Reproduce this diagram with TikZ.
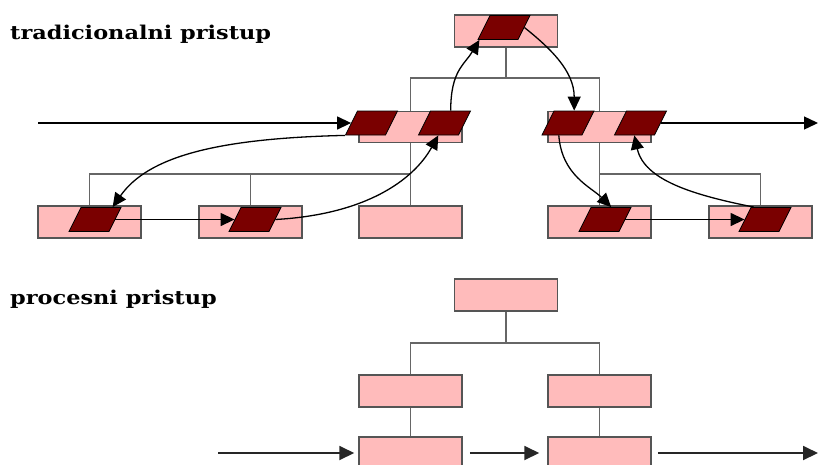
\documentclass[tikz,border=0pt]{standalone}
\usepackage{fontspec}
\newfontfamily\titlefont{DejaVu Serif}
\usetikzlibrary{arrows.meta}
\definecolor{boxpink}{HTML}{FFBBBB}
\definecolor{boxedge}{HTML}{555555}
\definecolor{paraRed}{HTML}{7A0000}
\definecolor{treegray}{HTML}{666666}
\tikzset{
  pbox/.style={draw=boxedge, fill=boxpink, line width=1.5pt, minimum width=103pt, minimum height=32pt, inner sep=0pt},
  para/.style={rectangle, xslant=0.5, draw=black, fill=paraRed, line width=0.8pt, minimum width=40pt, minimum height=24pt, inner sep=0pt},
  tree/.style={draw=treegray, line width=1.6pt},
  flow/.style={draw=black, line width=1.3pt, -{Triangle[length=14pt,width=13pt]}},
  flowb/.style={draw=black!85, line width=1.9pt, -{Triangle[length=15pt,width=14pt]}},
  title/.style={anchor=base west, inner sep=0pt, font=\titlefont\bfseries\fontsize{19}{22}\selectfont}
}
\begin{document}
\begin{tikzpicture}[x=1pt,y=-1pt]
\useasboundingbox (0,0) rectangle (818,464);
\clip (0,0) rectangle (818,464);
% titles
\node[title] (t1) at (10,39) {\scalebox{1.18}[1]{tradicionalni pristup}};
\node[title] (t2) at (10,304) {\scalebox{1.18}[1]{procesni pristup}};
% ---------- traditional ----------
\node[pbox] (T)  at (506,31)   {};
\node[pbox, minimum height=31pt] (ML) at (410.5,127) {};
\node[pbox, minimum height=31pt] (MR) at (599.5,127) {};
\node[pbox] (B1) at (89.5,222) {};
\node[pbox] (B2) at (250.5,222) {};
\node[pbox] (B3) at (410.5,222) {};
\node[pbox] (B4) at (599.5,222) {};
\node[pbox] (B5) at (760.5,222) {};
% tree
\coordinate (bus1) at (506,78);
\coordinate (bus2) at (250,174);
\coordinate (bus3) at (700,174);
\draw[tree] (T.south) -- (bus1);
\draw[tree] (ML.north) |- (bus1) -| (MR.north);
\draw[tree] (ML.south) -- (B3.north);
\draw[tree] (B1.north) |- (bus2) -| (B2.north);
\draw[tree] (B2.north |- bus2) -- (ML.south |- bus2);
\draw[tree] (MR.south) -- (B4.north);
\draw[tree] (MR.south |- bus3) -| (B5.north);
% parallelograms
\node[para] (Tp)   at (504,27.5) {};
\node[para] (MLp1) at (371.5,123) {};
\node[para] (MLp2) at (444.5,123) {};
\node[para] (MRp1) at (568,123) {};
\node[para] (MRp2) at (640.5,123) {};
\node[para] (B1p)  at (95,219.5) {};
\node[para] (B2p)  at (255,219.5) {};
\node[para] (B4p)  at (605,219.5) {};
\node[para] (B5p)  at (765,219.5) {};
% flow
\coordinate (in1) at (38,123);
\coordinate (out1) at (818,123);
\draw[flow] (in1) -- (MLp1.west);
\draw[flow] (MLp1.south west) .. controls +(-130,3) and +(35,-50) .. ([xshift=-9pt]B1p.north east);
\draw[flow] (B1p.east) -- (B2p.west);
\draw[flow] (B2p.east) .. controls +(90,-5) and +(-25,45) .. (MLp2.south);
\draw[flow] (MLp2.north) .. controls +(0,-40) and +(-15,25) .. ([xshift=2pt]Tp.south west);
\draw[flow] (Tp.east) .. controls +(25,20) and +(0,-40) .. (MRp1.north);
\draw[flow] ([xshift=-3pt]MRp1.south) .. controls +(3,40) and +(-20,-20) .. (B4p.north);
\draw[flow] (B4p.east) -- (B5p.west);
\draw[flow] ([xshift=3pt]B5p.north west) .. controls +(-60,-12) and +(10,45) .. (MRp2.south);
\draw[flow] (MRp2.east) -- (out1);
% ---------- process ----------
\node[pbox] (PT)  at (506,295) {};
\node[pbox] (PL)  at (410.5,391) {};
\node[pbox] (PR)  at (599.5,391) {};
\node[pbox] (PBL) at (410.5,453) {};
\node[pbox] (PBR) at (599.5,453) {};
\coordinate (bus4) at (506,343);
\draw[tree] (PT.south) -- (bus4);
\draw[tree] (PL.north) |- (bus4) -| (PR.north);
\draw[tree] (PL.south) -- (PBL.north);
\draw[tree] (PR.south) -- (PBR.north);
\coordinate (in2) at (218,453);
\coordinate (out2) at (818,453);
\draw[flowb, shorten >=4pt] (in2) -- (PBL.west);
\draw[flowb, shorten <=7pt, shorten >=8pt] (PBL.east) -- (PBR.west);
\draw[flowb, shorten <=6pt] (PBR.east) -- (out2);
\end{tikzpicture}
\end{document}
